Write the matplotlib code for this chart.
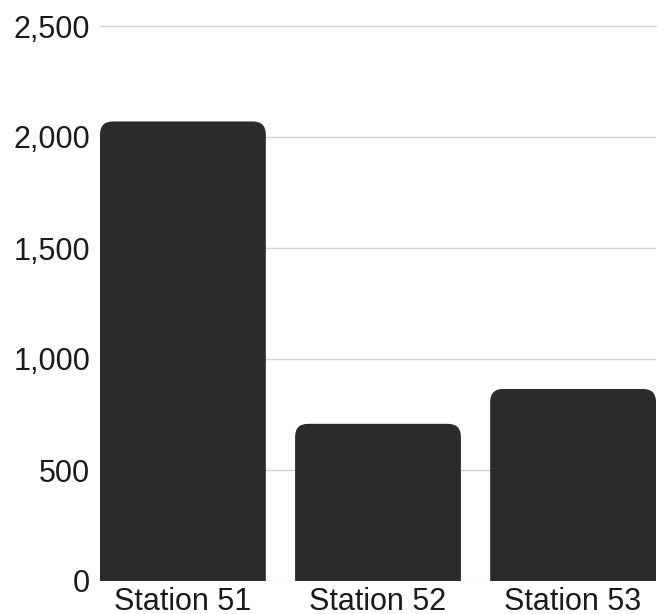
import matplotlib.pyplot as plt
from matplotlib.patches import FancyBboxPatch
from matplotlib.ticker import FuncFormatter

# data
stations = ['Station 51', 'Station 52', 'Station 53']
values = [2070, 708, 865]
y_ticks = [0, 500, 1000, 1500, 2000, 2500]

plt.rcParams['font.family'] = ['Liberation Sans', 'DejaVu Sans']

fig = plt.figure(figsize=(6.64, 6.14), dpi=100)
ax = fig.add_axes([100 / 664, 1 - 581 / 614, 556 / 664, 555 / 614])

bar_w = 0.85
x = list(range(len(stations)))
ax.set_xlim(-bar_w / 2, len(stations) - 1 + bar_w / 2)
ax.set_ylim(0, 2500)

# px per data unit, used to keep the corner radius round on screen
px_x = ax.bbox.width / (ax.get_xlim()[1] - ax.get_xlim()[0])
px_y = ax.bbox.height / (ax.get_ylim()[1] - ax.get_ylim()[0])
radius_px = 13
r_x = radius_px / px_x
aspect = px_x / px_y

#Bars with rounded tops; bottom corners pushed below zero so they get clipped
for xi, v in zip(x, values):
    extra = 2 * radius_px / px_y
    box = FancyBboxPatch((xi - bar_w / 2, -extra), bar_w, v + extra,
                         boxstyle=f'round,pad=0,rounding_size={r_x}',
                         mutation_aspect=aspect,
                         facecolor='#2b2b2b', edgecolor='none', zorder=3)
    ax.add_patch(box)

ax.set_yticks(y_ticks)
ax.yaxis.set_major_formatter(FuncFormatter(lambda v, p: f'{int(v):,}'))
ax.set_xticks(x)
ax.set_xticklabels(stations)
ax.grid(axis='y', color='#d4d4d4', linewidth=1, zorder=0)
ax.set_axisbelow(True)
for s in ax.spines.values():
    s.set_visible(False)
ax.tick_params(axis='both', length=0, labelsize=22, colors='#1a1a1a')
ax.tick_params(axis='y', pad=7)
ax.tick_params(axis='x', pad=4)
for t in ax.get_yticklabels() + ax.get_xticklabels():
    t.set_clip_on(False)
ax.get_ygridlines()[-1].set_clip_on(False)

fig.savefig('out.png', dpi=100)
